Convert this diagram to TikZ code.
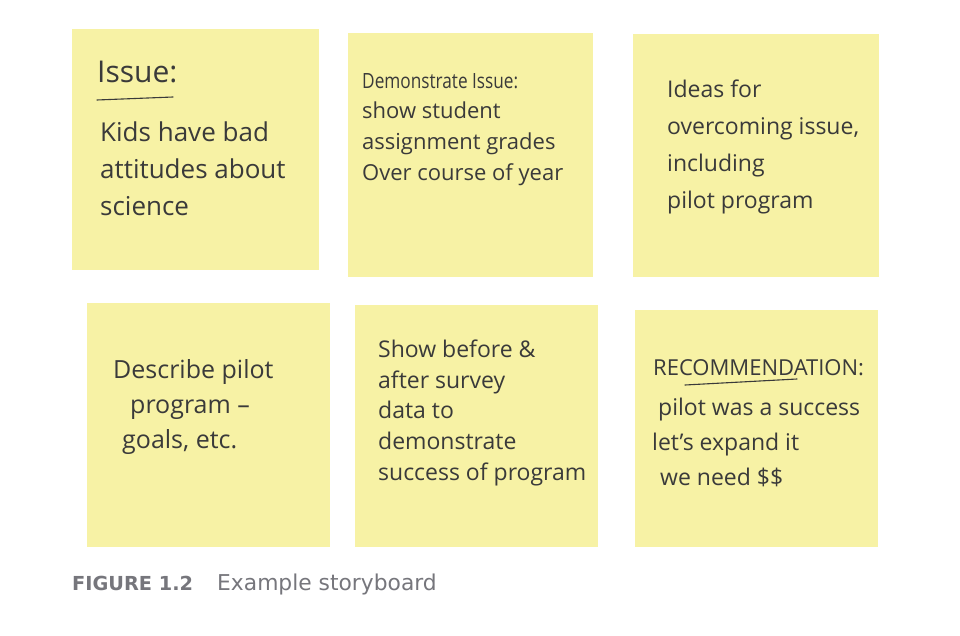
\documentclass[tikz,border=0pt]{standalone}
\usepackage{fontspec}
\setmainfont{Open Sans}
\newfontfamily\capfont{DejaVu Sans}
\usepackage{tikz}

\begin{document}
\begin{tikzpicture}[x=1pt,y=1pt,yscale=-1,xscale=1,
  note/.style={fill={rgb, 255:red, 247; green, 242; blue, 165}, inner sep=0pt},
  hand/.style={color={rgb, 255:red, 58; green, 58; blue, 58}, align=left, anchor=north west, inner sep=0pt},
  pen/.style={draw={rgb, 255:red, 58; green, 58; blue, 58}, line width=1.1pt, line cap=round},
  capt/.style={color={rgb, 255:red, 118; green, 118; blue, 124}, anchor=base west, inner sep=0pt}]
%set diagram to 960 x 636
\fill [white] (0,0) rectangle (960,636);
\useasboundingbox (0,0) rectangle (960,636);

%Shape: Notes, top row
\node [note, minimum width=247pt, minimum height=241pt] (issue) at (195.5,149.5) {};
\node [note, minimum width=245pt, minimum height=244pt] (demo) at (470.5,155) {};
\node [note, minimum width=246pt, minimum height=243pt] (ideas) at (756,155.5) {};
%Shape: Notes, bottom row
\node [note, minimum width=243pt, minimum height=244pt] (pilot) at (208.5,425) {};
\node [note, minimum width=243pt, minimum height=242pt] (survey) at (476.5,426) {};
\node [note, minimum width=243pt, minimum height=237pt] (recom) at (756.5,428.5) {};

% Text Node
\node [hand, anchor=base west, font=\fontsize{30}{36}\selectfont] (issuehead) at (97,83) {Issue:};
%Straight Lines
\draw [pen] (97,100) -- (173,97) ;
% Text Node
\node [hand, font=\fontsize{26}{37}\selectfont] (issuetext) at (100,122) {Kids have bad\\attitudes about\\science};
% Text Node
\node [hand, font=\fontsize{22}{30.7}\selectfont] (demotext) at (362,73) {\scalebox{0.82}[1]{\fontsize{21}{30.7}\selectfont Demonstrate Issue:}\\show student\\assignment grades\\Over course of year};
% Text Node
\node [hand, font=\fontsize{23}{37}\selectfont] (ideastext) at (667,79.5) {Ideas for\\overcoming issue,\\including\\pilot program};
% Text Node
\node [hand, font=\fontsize{25}{35}\selectfont] (pilottext) at (113,359) {Describe pilot\\\hspace*{17pt}program --\\\hspace*{9pt}goals, etc.};
% Text Node
\node [hand, font=\fontsize{23}{30.75}\selectfont] (surveytext) at (378,339.5) {Show before \&\\after survey\\data to\\demonstrate\\success of program};
% Text Node
\node [hand, anchor=base west, font=\fontsize{22}{30}\selectfont] (recomhead) at (653,375) {RECOMMENDATION:};
%Straight Lines
\draw [pen] (685,385) -- (797,379) ;
% Text Node
\node [hand, font=\fontsize{23}{35}\selectfont] (recomtext) at (652,397.5) {\hspace*{6pt}pilot was a success\\let's expand it\\\hspace*{8pt}we need \$\$};

% Text Node
\node [capt, font=\capfont\bfseries\fontsize{19.3}{22}\selectfont] (fignum) at (72,590) {FIGURE 1.2};
% Text Node
\node [capt, font=\capfont\fontsize{21.8}{24}\selectfont] (figtitle) at (217,590) {Example storyboard};

\end{tikzpicture}
\end{document}
